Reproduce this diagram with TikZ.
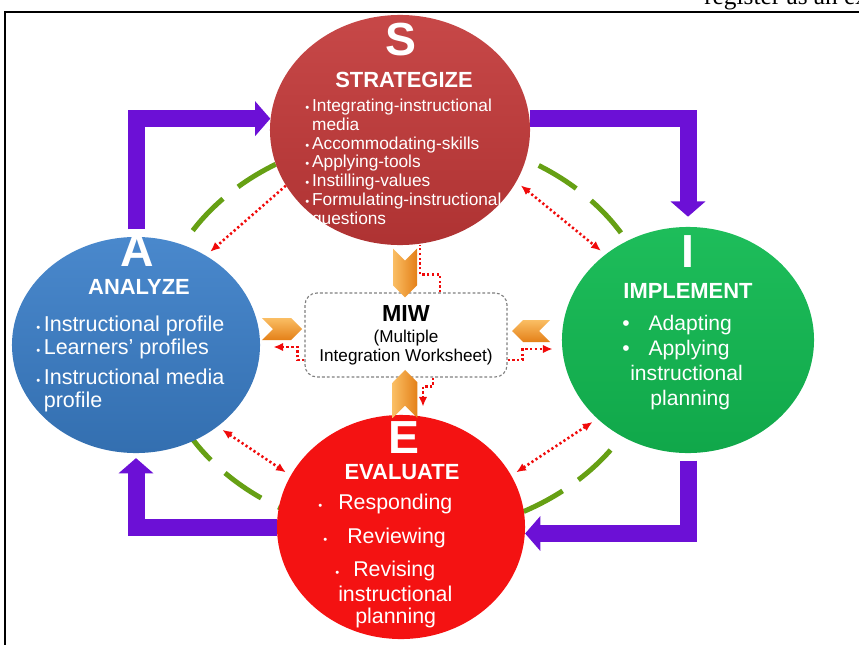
\documentclass[tikz,border=0pt]{standalone}
\usepackage{fontspec}
\setmainfont{Liberation Sans}
\newfontfamily\serifpage{Liberation Serif}
\usetikzlibrary{shapes.geometric,shapes.symbols,arrows.meta,calc,positioning}

\definecolor{stratred}{RGB}{194,56,56}
\definecolor{anablue}{RGB}{58,126,200}
\definecolor{impgreen}{RGB}{18,186,82}
\definecolor{evalred}{RGB}{244,18,18}
\definecolor{cyclepurple}{RGB}{108,16,214}
\definecolor{chevlight}{RGB}{250,190,100}
\definecolor{chevdark}{RGB}{228,128,24}
\definecolor{ringgreen}{RGB}{102,160,20}
\definecolor{linkred}{RGB}{240,10,10}

\newcommand{\bul}{{\footnotesize\textbullet}}

\tikzset{
  phase/.style={ellipse, inner sep=0, draw=none},
  letter/.style={text=white, font=\fontsize{33}{33}\selectfont\bfseries, inner sep=0},
  headline/.style={text=white, font=\fontsize{15.6}{16}\selectfont\bfseries, inner sep=0},
  items/.style={text=white, inner sep=0, align=left, anchor=north west},
  flow/.style={cyclepurple, line width=0.425cm, line join=miter,
    -{Triangle[width=0.85cm,length=0.38cm]}},
  dotline/.style={linkred, line width=1.8pt, dash pattern=on 1.6pt off 1.8pt},
  link/.style={dotline, -{Latex[length=7pt,width=6pt]}},
  links/.style={dotline, {Latex[length=7pt,width=6pt]}-{Latex[length=7pt,width=6pt]},
    shorten <=4pt, shorten >=4pt},
  chev/.style={signal, draw=none, inner sep=0},
}

\begin{document}
\begin{tikzpicture}[x=0.025cm, y=-0.025cm]
  \useasboundingbox (0,0) rectangle (859,644);

  \node[anchor=base west, inner sep=0, font=\serifpage\fontsize{18}{18}\selectfont]
    (pagetext) at (704,5) {register as an ex};
  \draw[line width=1.4pt] (5,660) |- (870,12);

  \node[draw=gray, dash pattern=on 2pt off 1.5pt, line width=0.8pt, rounded corners=0.3cm,
    fill=white, minimum width=5.05cm, minimum height=2.1cm, align=center,
    font=\fontsize{12.2}{13.5}\selectfont]
    (MIW) at (406,335) {{\fontsize{16.5}{16.5}\selectfont\bfseries MIW}\\[1.5pt](Multiple\\Integration Worksheet)};

  \draw[ringgreen, line width=0.125cm, dash pattern=on 1.1cm off 0.48cm]
    (MIW.center) ellipse [x radius=250, y radius=200];

  \node[phase, top color=stratred!92!white, bottom color=stratred!90!black,
    minimum width=6.5cm, minimum height=5.75cm] (S) at (400,130) {};
  \node[phase, top color=anablue!92!white, bottom color=anablue!88!black,
    minimum width=6.2cm, minimum height=5.4cm] (A) at (136,345) {};
  \node[phase, top color=impgreen!95!white, bottom color=impgreen!90!black,
    minimum width=6.3cm, minimum height=5.65cm] (I) at (688,340) {};
  \node[phase, fill=evalred,
    minimum width=6.2cm, minimum height=5.6cm] (E) at (401,527) {};

  \node[letter] (Sletter) at (401,40) {S};
  \node[headline] (Stitle) at (404,79.5) {STRATEGIZE};
  \node[items, font=\fontsize{12.3}{13.3}\selectfont] (Slist) at (305,99)
    {\bul\,Integrating-instructional\\\phantom{\bul\,}media\\\bul\,Accommodating-skills\\
     \bul\,Applying-tools\\\bul\,Instilling-values\\\bul\,Formulating-instructional\\
     \phantom{\bul\,}questions};

  \node[letter] (Aletter) at (137.5,251) {A};
  \node[headline] (Atitle) at (139,287) {ANALYZE};
  \node[items, font=\fontsize{15.3}{16.4}\selectfont] (Alist) at (36,316)
    {\bul\,Instructional profile\\\bul\,Learners’ profiles\\[4.3pt]
     \bul\,Instructional media\\\phantom{\bul\,}profile};

  \node[letter] (Iletter) at (688,251.5) {I};
  \node[headline] (Ititle) at (688,291) {IMPLEMENT};
  \node[items, font=\fontsize{15}{17.8}\selectfont] (Ilist) at (622,315)
    {\textbullet\hspace{13.5pt}Adapting\\\textbullet\hspace{13.5pt}Applying\\
     \hspace*{5.7pt}instructional\\\hspace*{20pt}planning};

  \node[letter] (Eletter) at (404,438) {E};
  \node[headline] (Etitle) at (402,472) {EVALUATE};
  \node[items, font=\fontsize{15.2}{15.6}\selectfont] (Elist) at (318,494)
    {\bul\hspace{11.4pt}Responding\\[8.6pt]
     \hspace*{3.6pt}\bul\hspace{14.2pt}Reviewing\\[7.9pt]
     \hspace*{12.1pt}\bul\hspace{10pt}Revising\\[2.2pt]
     \hspace*{14.2pt}instructional\\
     \hspace*{26.3pt}planning};

  \node[chev, signal to=south, signal from=north, left color=chevlight,
    right color=chevdark, minimum width=0.6cm, minimum height=0.62cm]
    (topchev) at (405,273) {};
  \node[chev, signal to=north, signal from=south, left color=chevlight,
    right color=chevdark, minimum width=0.62cm, minimum height=0.58cm]
    (botchev) at (405,394) {};
  \node[chev, signal to=east, signal from=west, top color=chevlight,
    bottom color=chevdark, minimum width=1.0cm, minimum height=0.55cm]
    (leftchev) at (282,329) {};
  \node[chev, signal to=west, signal from=east, top color=chevlight,
    bottom color=chevdark, minimum width=0.95cm, minimum height=0.55cm]
    (rightchev) at (531,331) {};

  \draw[flow, shorten <=0.18cm] (A.north) |- (S.175);
  \draw[flow, shorten >=0.25cm] (S.5) -| (I.north);
  \draw[flow, shorten <=0.18cm] (I.south) |- (E.-3);
  \draw[flow, shorten >=0.12cm] (E.west) -| (A.south);

  \draw[link, shorten >=4pt] (S.206) -- (A.52);
  \draw[links] (S.-24) -- (I.134);
  \draw[links] (A.-45) -- (E.155);
  \draw[links] (E.25) -- (I.221);

  \draw[dotline] ($(MIW.north)+(34,0)$) -- ++(0,-18) -| ($(S.south)+(20,0)$);
  \draw[link] ($(MIW.west)+(0,25)$) -- ++(-7,0) |- ($(A.east)+(13,2)$);
  \draw[link] ($(MIW.east)+(0,25)$) -- ++(15,0) |- ($(I.west)+(-9,9)$);
  \draw[link] ($(MIW.south)+(27,0)$) -- ++(0,9) -| ($(E.north)+(22,-8)$);
\end{tikzpicture}
\end{document}
